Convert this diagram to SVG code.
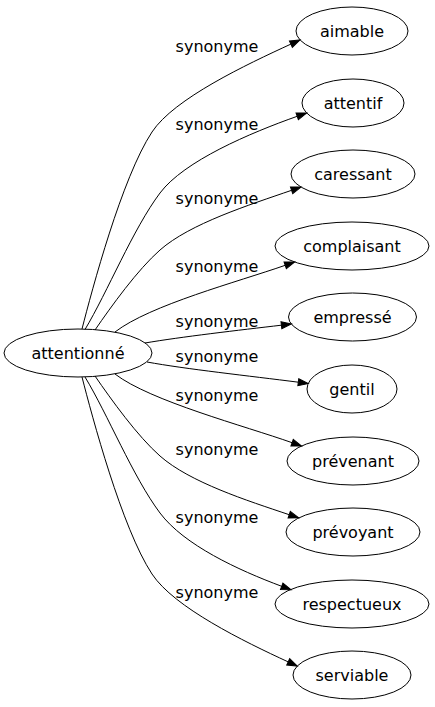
<svg xmlns="http://www.w3.org/2000/svg" width="435" height="707" viewBox="0 0 435 707">
<style>
.n ellipse{fill:none;stroke:#000;stroke-width:1}
text{font-family:"DejaVu Sans",sans-serif;font-size:16px;fill:#000;text-anchor:middle}
.e path{fill:none;stroke:#000;stroke-width:1;marker-end:url(#ah)}
</style>
<defs>
<marker id="ah" markerWidth="10" markerHeight="7" refX="0" refY="3.5" orient="auto" markerUnits="userSpaceOnUse" overflow="visible">
<path d="M0,0 L10,3.5 L0,7 z" fill="#000" stroke="#000" stroke-width="1"/>
</marker>
</defs>
<rect width="435" height="707" fill="#fff"/>
<g id="edges" class="e">
<path d="M82,329 C92,290 121.8,177.9 152,132 C174,98.6 246.5,64.5 290.9,44.1"/>
<path d="M85,329.5 C107.5,292 133,229 160,193 C184,161 250,133 297.2,116.3"/>
<path d="M95,330 C111.5,306 137.5,269.8 160,250 C190,223.6 249,205 291.6,190.3"/>
<path d="M115,332 C150,305 238,281.8 285.2,265.3"/>
<path d="M145,343 C180,337 240,330 281.4,325.2"/>
<path d="M147,362 C185,369 250,376 298.3,382.2"/>
<path d="M115,374 C150,401 245,426 292.1,442.7"/>
<path d="M95,376 C111.5,400 137.5,436.2 160,456 C190,482.4 247,500.5 289.2,514.7"/>
<path d="M85,377 C107.5,414 133,477 160,513 C184,545 238,570 281.7,586.3"/>
<path d="M82,377 C92,416 121.8,528.1 152,574 C174,607.4 244,641.5 288.2,661.9"/>
<text x="217" y="52">synonyme</text>
<text x="217" y="129.5">synonyme</text>
<text x="217" y="204">synonyme</text>
<text x="217" y="272">synonyme</text>
<text x="217" y="327">synonyme</text>
<text x="217" y="362">synonyme</text>
<text x="217" y="400.5">synonyme</text>
<text x="217" y="455">synonyme</text>
<text x="217" y="522.5">synonyme</text>
<text x="217" y="597.5">synonyme</text>
</g>
<g id="attentionne" class="n"><ellipse cx="78" cy="353" rx="74" ry="24"/><text x="78" y="358.5">attentionné</text></g>
<g id="aimable" class="n"><ellipse cx="352" cy="31" rx="56" ry="24"/><text x="352" y="36.5">aimable</text></g>
<g id="attentif" class="n"><ellipse cx="353" cy="103" rx="51" ry="24"/><text x="353" y="108.5">attentif</text></g>
<g id="caressant" class="n"><ellipse cx="353" cy="174" rx="62" ry="24"/><text x="353" y="179.5">caressant</text></g>
<g id="complaisant" class="n"><ellipse cx="352" cy="246" rx="77" ry="24"/><text x="352" y="251.5">complaisant</text></g>
<g id="empresse" class="n"><ellipse cx="352.5" cy="317" rx="64" ry="24"/><text x="352.5" y="322.5">empressé</text></g>
<g id="gentil" class="n"><ellipse cx="352" cy="389" rx="45" ry="24"/><text x="352" y="394.5">gentil</text></g>
<g id="prevenant" class="n"><ellipse cx="353" cy="461" rx="66" ry="24"/><text x="353" y="466.5">prévenant</text></g>
<g id="prevoyant" class="n"><ellipse cx="353" cy="532" rx="67" ry="24"/><text x="353" y="537.5">prévoyant</text></g>
<g id="respectueux" class="n"><ellipse cx="352" cy="604" rx="77" ry="24"/><text x="352" y="609.5">respectueux</text></g>
<g id="serviable" class="n"><ellipse cx="352" cy="675" rx="59" ry="24"/><text x="352" y="680.5">serviable</text></g>
</svg>
